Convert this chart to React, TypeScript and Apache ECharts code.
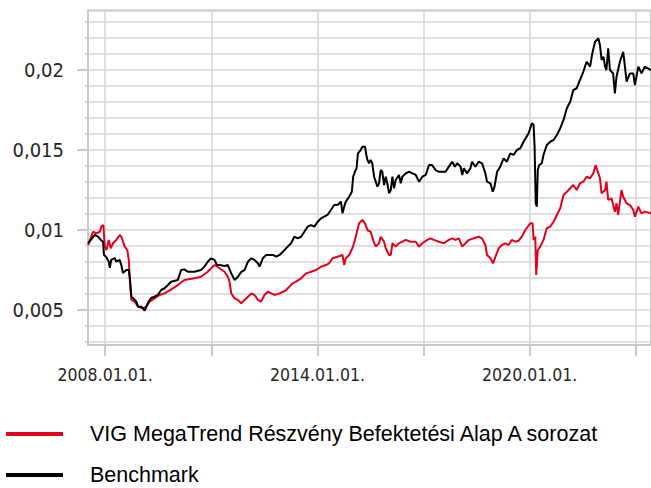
import React, { useEffect, useRef } from 'react';
import * as echarts from 'echarts';

const FUND_NAME = 'VIG MegaTrend Részvény Befektetési Alap A sorozat';
const BENCH_NAME = 'Benchmark';

const fundDates = [
  '2007-07-09','2007-08-29','2007-10-02','2007-11-07','2007-11-23','2007-12-14','2007-12-28',
  '2008-01-14','2008-02-08','2008-02-28','2008-03-22','2008-04-25','2008-05-30','2008-06-16',
  '2008-07-21','2008-08-17','2008-09-01','2008-09-14','2008-09-28','2008-11-02','2008-12-06',
  '2009-01-26','2009-03-01','2009-04-04','2009-05-25','2009-07-16','2009-09-06','2009-11-13',
  '2010-01-21','2010-03-29','2010-07-10','2010-09-17','2010-11-25','2011-01-16','2011-02-06',
  '2011-03-27','2011-05-18','2011-06-21','2011-07-08','2011-07-26','2011-08-29','2011-10-03',
  '2011-11-07','2011-12-11','2012-01-14','2012-02-19','2012-03-22','2012-04-26','2012-05-30',
  '2012-07-03','2012-08-07','2012-09-11','2012-10-15','2012-12-06','2013-01-09','2013-02-13',
  '2013-03-17','2013-04-20','2013-05-25','2013-07-16','2013-09-06','2013-10-27','2013-12-18',
  '2014-02-08','2014-03-29','2014-05-02','2014-06-05','2014-07-27','2014-09-17','2014-10-04',
  '2014-10-21','2014-11-25','2014-12-29','2015-01-23','2015-02-13','2015-03-07','2015-04-10',
  '2015-05-07','2015-06-01','2015-07-05','2015-07-29','2015-08-26','2015-09-29','2015-10-16',
  '2015-11-20','2015-12-07','2016-01-11','2016-01-28','2016-02-14','2016-03-19','2016-04-22',
  '2016-06-30','2016-08-21','2016-10-12','2016-11-15','2016-12-19','2017-02-09','2017-03-14',
  '2017-04-17','2017-06-08','2017-07-29','2017-09-19','2017-10-23','2017-11-27','2018-01-01',
  '2018-02-04','2018-03-09','2018-04-12','2018-06-02','2018-07-24','2018-08-27','2018-10-01',
  '2018-10-18','2018-11-22','2018-12-19','2019-01-13','2019-02-16','2019-03-20','2019-04-24',
  '2019-05-28','2019-07-01','2019-08-05','2019-09-09','2019-10-12','2019-11-17','2020-01-08',
  '2020-01-31','2020-02-11','2020-02-28','2020-03-09','2020-03-25','2020-04-19','2020-05-23',
  '2020-06-26','2020-08-01','2020-09-04','2020-10-08','2020-11-12','2020-12-16','2021-01-19',
  '2021-02-23','2021-03-27','2021-04-30','2021-06-04','2021-07-08','2021-08-11','2021-09-16',
  '2021-10-19','2021-11-12','2021-12-10','2021-12-27','2022-01-13','2022-02-18','2022-03-04',
  '2022-03-22','2022-04-25','2022-05-30','2022-06-16','2022-07-03','2022-08-06','2022-08-24',
  '2022-09-28','2022-11-02','2022-12-06','2022-12-23','2023-01-27','2023-03-01','2023-04-04',
  '2023-06-07'
];
const fundValues = [
  0.00906,0.00989,0.00979,0.00989,0.01021,0.01031,0.00896,
  0.00875,0.00938,0.00886,0.00917,0.00938,0.00969,0.00958,
  0.00896,0.00875,0.00813,0.00667,0.00563,0.00552,0.00521,
  0.00511,0.00521,0.00552,0.00573,0.00594,0.00604,0.00629,
  0.00656,0.00688,0.00698,0.00708,0.00739,0.00771,0.00781,
  0.00761,0.00739,0.00708,0.00677,0.00604,0.00573,0.00563,
  0.00542,0.00563,0.00583,0.00604,0.00594,0.00563,0.00552,
  0.00594,0.00614,0.00604,0.00594,0.00604,0.00614,0.00625,
  0.00646,0.00667,0.00677,0.00698,0.00729,0.00739,0.0075,
  0.00771,0.00781,0.00792,0.00823,0.00833,0.00844,0.00781,
  0.00823,0.00844,0.00888,0.00938,0.00989,0.01042,0.01063,
  0.01042,0.01,0.00989,0.00938,0.00896,0.00917,0.00958,
  0.00927,0.00886,0.00844,0.00844,0.00917,0.00896,0.00917,
  0.00938,0.00927,0.00927,0.00896,0.00917,0.00938,0.00948,
  0.00938,0.00927,0.00917,0.00938,0.00948,0.00938,0.00948,
  0.00896,0.00917,0.00938,0.00948,0.00958,0.00948,0.00906,
  0.00844,0.00823,0.00792,0.00833,0.00886,0.00906,0.00917,
  0.00906,0.00938,0.00927,0.00933,0.00958,0.01,0.01042,
  0.01042,0.00938,0.00958,0.00719,0.00875,0.00896,0.00938,
  0.01011,0.01021,0.01052,0.01094,0.01136,0.01219,0.01239,
  0.01261,0.01281,0.0125,0.01292,0.01302,0.01333,0.01323,
  0.01354,0.01406,0.01354,0.01323,0.01229,0.0125,0.01302,
  0.01188,0.01198,0.01114,0.01167,0.01094,0.0125,0.01208,
  0.01167,0.01156,0.01125,0.01083,0.01146,0.01104,0.01115,
  0.01104
];

const benchDates = [
  '2007-07-09','2007-09-16','2007-10-20','2007-11-17','2007-12-10','2007-12-20','2008-01-11',
  '2008-02-08','2008-02-18','2008-03-04','2008-04-09','2008-04-25','2008-05-30','2008-06-16',
  '2008-07-03','2008-08-07','2008-09-01','2008-09-14','2008-09-28','2008-10-15','2008-11-18',
  '2008-12-06','2009-01-09','2009-02-13','2009-03-01','2009-03-24','2009-04-20','2009-05-25',
  '2009-06-28','2009-08-01','2009-09-06','2009-10-10','2009-11-13','2010-01-21','2010-02-24',
  '2010-03-29','2010-05-03','2010-07-10','2010-09-17','2010-10-22','2010-11-25','2010-12-29',
  '2011-02-03','2011-02-28','2011-03-27','2011-05-18','2011-06-21','2011-07-26','2011-08-29',
  '2011-10-03','2011-11-07','2011-12-11','2012-01-14','2012-02-19','2012-03-22','2012-04-26',
  '2012-05-13','2012-06-16','2012-07-21','2012-09-28','2012-11-02','2012-12-06','2013-01-09',
  '2013-02-28','2013-04-04','2013-05-08','2013-06-11','2013-07-16','2013-08-19','2013-09-22',
  '2013-10-27','2013-11-30','2014-01-04','2014-02-08','2014-03-12','2014-04-15','2014-05-20',
  '2014-06-23','2014-07-27','2014-09-01','2014-09-17','2014-10-04','2014-10-21','2014-11-25',
  '2014-12-22','2015-01-05','2015-01-23','2015-02-09','2015-02-23','2015-03-24','2015-04-10',
  '2015-05-07','2015-05-21','2015-06-01','2015-06-18','2015-07-05','2015-07-21','2015-08-09',
  '2015-08-26','2015-09-12','2015-09-29','2015-10-16','2015-11-02','2015-11-20','2015-12-07',
  '2015-12-23','2016-01-11','2016-01-28','2016-02-14','2016-03-02','2016-03-19','2016-04-22',
  '2016-05-10','2016-05-26','2016-06-30','2016-08-04','2016-09-08','2016-10-12','2016-11-15',
  '2016-12-19','2017-01-23','2017-02-26','2017-03-30','2017-05-05','2017-06-08','2017-08-16',
  '2017-09-19','2017-10-23','2017-11-20','2017-12-14','2018-01-18','2018-02-04','2018-02-21',
  '2018-03-25','2018-04-29','2018-05-16','2018-06-20','2018-07-24','2018-08-27','2018-10-01',
  '2018-10-18','2018-11-22','2018-12-16','2019-01-03','2019-01-30','2019-03-04','2019-04-07',
  '2019-05-11','2019-06-15','2019-07-19','2019-08-22','2019-09-27','2019-10-30','2019-12-21',
  '2020-01-24','2020-02-11','2020-02-21','2020-03-04','2020-03-15','2020-03-25','2020-04-09',
  '2020-05-05','2020-05-23','2020-06-26','2020-08-01','2020-09-04','2020-10-08','2020-11-12',
  '2020-12-16','2021-01-19','2021-02-23','2021-03-27','2021-04-30','2021-06-04','2021-07-08',
  '2021-08-11','2021-09-16','2021-10-09','2021-11-06','2021-12-10','2021-12-27','2022-01-13',
  '2022-02-01','2022-02-18','2022-03-04','2022-03-22','2022-04-09','2022-05-12','2022-05-30',
  '2022-06-16','2022-07-21','2022-08-24','2022-09-11','2022-09-28','2022-11-02','2022-12-06',
  '2022-12-23','2023-01-27','2023-03-01','2023-04-04','2023-06-07'
];
const benchValues = [
  0.00917,0.00969,0.00958,0.00938,0.00927,0.00844,0.00833,
  0.00802,0.00763,0.00813,0.00825,0.00802,0.00813,0.00781,
  0.00731,0.0075,0.0075,0.00688,0.00583,0.00575,0.00552,
  0.00521,0.00521,0.00496,0.00521,0.00552,0.00575,0.00583,
  0.00594,0.00625,0.00636,0.00656,0.00677,0.00688,0.0075,
  0.00754,0.00739,0.00739,0.0075,0.00771,0.00802,0.00823,
  0.00813,0.00781,0.00781,0.00775,0.00781,0.00729,0.00688,
  0.00708,0.00739,0.0075,0.00802,0.00823,0.00813,0.00792,
  0.00771,0.00823,0.00844,0.00844,0.00833,0.00844,0.00864,
  0.00896,0.00917,0.00958,0.00948,0.00958,0.00989,0.01021,
  0.01031,0.01021,0.01052,0.01073,0.01083,0.01094,0.01125,
  0.01156,0.01156,0.01177,0.01104,0.01146,0.01177,0.01208,
  0.01239,0.01333,0.01364,0.01386,0.01479,0.015,0.01521,
  0.01521,0.01469,0.01438,0.01417,0.01438,0.01417,0.01333,
  0.01302,0.01271,0.01292,0.01375,0.01364,0.01281,0.01333,
  0.01292,0.01229,0.0125,0.01333,0.01261,0.01313,0.01344,
  0.01292,0.01333,0.01354,0.01364,0.01354,0.01344,0.01302,
  0.01333,0.01344,0.01406,0.01406,0.01375,0.01364,0.01364,
  0.01396,0.01427,0.01396,0.01417,0.01396,0.01344,0.01386,
  0.01354,0.01386,0.01427,0.01396,0.01427,0.01417,0.01354,
  0.01302,0.01292,0.01239,0.01271,0.01364,0.01396,0.01448,
  0.01427,0.01479,0.01469,0.015,0.01511,0.01552,0.01604,
  0.01667,0.01656,0.01521,0.01167,0.01146,0.01375,0.01406,
  0.01417,0.01469,0.01531,0.01552,0.01563,0.01594,0.01636,
  0.01688,0.01761,0.01802,0.01875,0.01886,0.01938,0.01989,
  0.02052,0.02021,0.02104,0.02177,0.02198,0.02156,0.02063,
  0.02083,0.02021,0.02,0.02136,0.02,0.01979,0.01854,
  0.01958,0.02052,0.02114,0.02021,0.01927,0.01979,0.01979,
  0.01906,0.02021,0.01979,0.02021,0.02
];

const xAxisMin = '2007-07-08';
const xAxisMax = '2023-06-07';
const xGridDates = ['2008-01-01', '2011-01-01', '2014-01-01', '2017-01-01', '2020-01-01', '2023-01-01'];
const xLabelDates = ['2008-01-01', '2014-01-01', '2020-01-01'];

const yAxisMin = 0.0028125;
const yAxisMax = 0.02372;
const yGridValues = [
  0.003, 0.004, 0.005, 0.006, 0.007, 0.008, 0.009, 0.01, 0.011, 0.012, 0.013,
  0.014, 0.015, 0.016, 0.017, 0.018, 0.019, 0.02, 0.021, 0.022, 0.023
];
const yLabelValues = [0.005, 0.01, 0.015, 0.02];

const FUND_COLOR = '#e2001a';
const BENCH_COLOR = '#000000';
const GRID_COLOR = '#d4d4d4';
const AXIS_COLOR = '#c8c8c8';
const AXIS_FONT = '"DejaVu Sans Condensed", "DejaVu Sans", sans-serif';

export default function App() {
  const ref = useRef<HTMLDivElement>(null);

  useEffect(() => {
    if (!ref.current) return;
    const chart = echarts.init(ref.current, null, { renderer: 'svg' });
    const ts = (s: string) => +echarts.time.parse(s);

    const legendBase = {
      orient: 'vertical',
      left: 6,
      padding: 0,
      itemWidth: 57,
      itemHeight: 4,
      icon: 'rect',
      selectedMode: false,
      textStyle: {
        fontFamily: '"Liberation Sans", Arial, sans-serif',
        fontSize: 21.5,
        color: '#000',
        lineHeight: 20,
        padding: [0, 0, 0, 22],
      },
    };

    chart.setOption({
      animation: false,
      grid: {
        left: 88,
        right: -3,
        top: 10.5,
        bottom: 143,
        show: true,
        borderColor: AXIS_COLOR,
        borderWidth: 2,
        backgroundColor: 'transparent',
      },
      legend: [
        { ...legendBase, top: 423, data: [FUND_NAME] },
        { ...legendBase, top: 464, data: [BENCH_NAME] },
      ],
      xAxis: {
        type: 'value',
        min: ts(xAxisMin),
        max: ts(xAxisMax),
        axisLine: { show: true, lineStyle: { color: AXIS_COLOR, width: 2 } },
        axisTick: {
          show: true,
          customValues: xGridDates.map(ts),
          length: 11,
          lineStyle: { color: AXIS_COLOR, width: 2 },
        },
        axisLabel: {
          customValues: xLabelDates.map(ts),
          formatter: (v: number) => echarts.time.format(v, '{yyyy}.{MM}.{dd}.', false),
          fontFamily: AXIS_FONT,
          fontSize: 17.5,
          color: '#262626',
          margin: 21,
        },
        splitLine: { show: true, lineStyle: { color: GRID_COLOR, width: 1.5 } },
      },
      yAxis: [
        {
          type: 'value',
          min: yAxisMin,
          max: yAxisMax,
          axisLine: { show: true, lineStyle: { color: AXIS_COLOR, width: 2 } },
          axisTick: {
            show: true,
            customValues: yGridValues,
            length: 3,
            lineStyle: { color: AXIS_COLOR, width: 1.5 },
          },
          axisLabel: { show: false, customValues: yGridValues },
          splitLine: { show: true, lineStyle: { color: GRID_COLOR, width: 1.5 } },
        },
        {
          type: 'value',
          position: 'left',
          min: yAxisMin,
          max: yAxisMax,
          axisLine: { show: false },
          axisTick: {
            show: true,
            customValues: yLabelValues,
            length: 11,
            lineStyle: { color: AXIS_COLOR, width: 2 },
          },
          axisLabel: {
            customValues: yLabelValues,
            formatter: (v: number) => String(v).replace('.', ','),
            fontFamily: AXIS_FONT,
            fontSize: 20,
            color: '#262626',
            margin: 24,
          },
          splitLine: { show: false },
        },
      ],
      series: [
        {
          name: FUND_NAME,
          type: 'line',
          yAxisIndex: 0,
          color: FUND_COLOR,
          symbol: 'none',
          showSymbol: false,
          lineStyle: { color: FUND_COLOR, width: 2 },
          data: fundDates.map((d, i) => [ts(d), fundValues[i]]),
        },
        {
          name: BENCH_NAME,
          type: 'line',
          yAxisIndex: 0,
          color: BENCH_COLOR,
          symbol: 'none',
          showSymbol: false,
          lineStyle: { color: BENCH_COLOR, width: 2 },
          data: benchDates.map((d, i) => [ts(d), benchValues[i]]),
        },
      ],
    });

    return () => chart.dispose();
  }, []);

  return (
    <div
      ref={ref}
      style={{ position: 'absolute', left: 0, top: 0, width: 651, height: 488 }}
    />
  );
}
